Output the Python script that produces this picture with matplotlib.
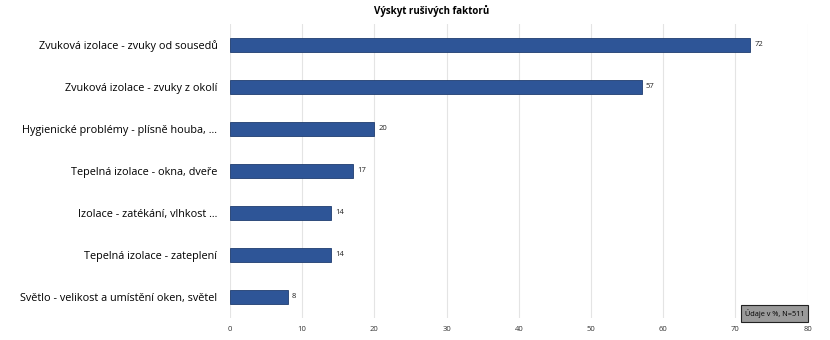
import matplotlib
matplotlib.use('Agg')
import matplotlib.pyplot as plt
import numpy as np

categories = ['Zvuková izolace - zvuky od sousedů',
              'Zvuková izolace - zvuky z okolí',
              'Hygienické problémy - plísně houba, ...',
              'Tepelná izolace - okna, dveře',
              'Izolace - zatékání, vlhkost ...',
              'Tepelná izolace - zateplení',
              'Světlo - velikost a umístění oken, světel']
values = [72, 57, 20, 17, 14, 14, 8]
xticks = [0, 10, 20, 30, 40, 50, 60, 70, 80]

plt.rcParams['font.family'] = ['Open Sans', 'DejaVu Sans']

fig = plt.figure(figsize=(8.3, 3.4), dpi=100)
ax = fig.add_axes([0.277, 0.065, 0.696, 0.865])

y = np.arange(len(categories))
ax.barh(y, values, height=0.34, color='#2E5597', edgecolor='#1F3D70', linewidth=0.6, zorder=3)
for yi, v in zip(y, values):
    ax.text(v + 0.6, yi, str(v), va='center', ha='left', fontsize=5.5, color='#222222')

ax.set_ylim(len(categories) - 0.5, -0.5)
ax.set_xlim(0, 80)
ax.set_yticks(y)
ax.set_yticklabels(categories, fontsize=7.8)
ax.set_xticks(xticks)
ax.set_xticklabels([str(t) for t in xticks], fontsize=5.5, color='#333333')
ax.tick_params(axis='both', length=0)
ax.tick_params(axis='y', pad=9)
ax.tick_params(axis='x', pad=6)
ax.grid(axis='x', color='#E4E4E4', linewidth=0.8, zorder=0)
for s in ax.spines.values():
    s.set_visible(False)

fig.text(0.52, 0.968, 'Výskyt rušivých faktorů', ha='center', va='center', fontsize=7, fontweight='bold')

ax.text(0.995, 0.0, 'Údaje v %, N=511', transform=ax.transAxes, ha='right', va='bottom', fontsize=5.3,
        bbox=dict(boxstyle='square,pad=0.5', facecolor='#9A9A9A', edgecolor='#222222', linewidth=0.8), zorder=5)

fig.savefig('out.png', dpi=100)
